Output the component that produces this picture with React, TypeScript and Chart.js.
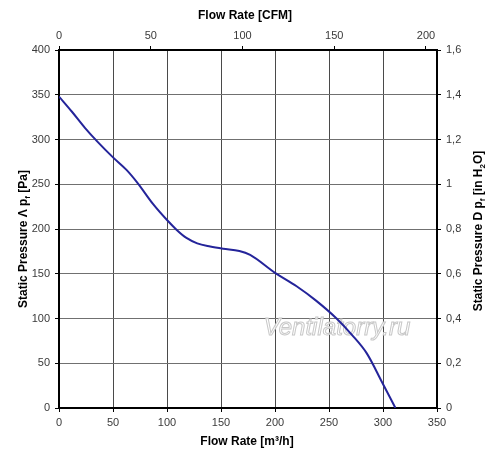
import React, { useEffect, useRef } from "react";
import { Chart, registerables } from "chart.js";

Chart.register(...registerables);

// Flow rate [m³/h] and static pressure [Pa]
const flowM3h = [0, 12, 24, 36, 50, 62.5, 73, 87, 100, 109, 118, 128, 140, 152, 167, 177, 200, 220, 238, 257, 271, 285, 299, 311.5];
const pressurePa = [348, 331, 313, 297, 280, 266, 251, 228, 210, 199, 190, 184, 180.5, 178, 175.5, 171, 151, 136, 120, 100, 82, 61, 29, 0];

const bottomTicks = [0, 50, 100, 150, 200, 250, 300, 350];
const topTicksCFM = [0, 50, 100, 150, 200];
const leftTicks = [0, 50, 100, 150, 200, 250, 300, 350, 400];
const rightTicks = [0, 0.2, 0.4, 0.6, 0.8, 1, 1.2, 1.4, 1.6];

const M3H_PER_CFM = 1.699;
const FONT = "'Liberation Sans', Arial, sans-serif";

type Seg = { t: string; sub?: boolean };

function drawRich(ctx: CanvasRenderingContext2D, segs: Seg[], x: number, y: number, rot: number, size: number) {
  ctx.save();
  ctx.translate(x, y);
  ctx.rotate(rot);
  ctx.textBaseline = "middle";
  ctx.textAlign = "left";
  ctx.fillStyle = "#000";
  const big = `bold ${size}px ${FONT}`;
  const small = `bold ${Math.round(size * 0.7)}px ${FONT}`;
  let w = 0;
  for (const s of segs) {
    ctx.font = s.sub ? small : big;
    w += ctx.measureText(s.t).width;
  }
  let cx = -w / 2;
  for (const s of segs) {
    ctx.font = s.sub ? small : big;
    ctx.fillText(s.t, cx, s.sub ? size * 0.3 : 0);
    cx += ctx.measureText(s.t).width;
  }
  ctx.restore();
}

const titlesPlugin = {
  id: "titles",
  beforeDatasetsDraw(chart: any) {
    const ctx = chart.ctx as CanvasRenderingContext2D;
    ctx.save();
    ctx.font = `italic 24px ${FONT}`;
    ctx.textAlign = "center";
    ctx.textBaseline = "middle";
    ctx.lineWidth = 1;
    ctx.fillStyle = "rgba(255,255,255,0.9)";
    ctx.strokeStyle = "#c8c8c8";
    ctx.fillText("Ventilatorry.ru", 337, 328);
    ctx.strokeText("Ventilatorry.ru", 337, 328);
    ctx.restore();
  },
  afterDraw(chart: any) {
    const ctx = chart.ctx as CanvasRenderingContext2D;
    drawRich(ctx, [{ t: "Flow Rate [CFM]" }], 245, 16, 0, 12);
    drawRich(ctx, [{ t: "Flow Rate [m³/h]" }], 247, 442, 0, 12);
    drawRich(ctx, [{ t: "Static Pressure Λ p" }, { t: "f", sub: true }, { t: " [Pa]" }], 24, 239, -Math.PI / 2, 12);
    drawRich(
      ctx,
      [{ t: "Static Pressure D p" }, { t: "f", sub: true }, { t: " [in H" }, { t: "2", sub: true }, { t: "O]" }],
      479,
      231,
      -Math.PI / 2,
      12
    );
  },
};

export default function App() {
  const ref = useRef<HTMLCanvasElement>(null);

  useEffect(() => {
    if (!ref.current) return;
    const tickFont = { family: FONT, size: 11 };
    const tickColor = "#3a3a3a";
    const chart = new Chart(ref.current, {
      type: "line",
      data: {
        datasets: [
          {
            data: flowM3h.map((x, i) => ({ x, y: pressurePa[i] })),
            borderColor: "#24249a",
            borderWidth: 2,
            pointRadius: 0,
            fill: false,
            cubicInterpolationMode: "monotone",
            xAxisID: "x",
            yAxisID: "y",
          },
        ],
      },
      options: {
        animation: false,
        responsive: false,
        layout: { padding: 0 },
        plugins: { legend: { display: false }, tooltip: { enabled: false } },
        scales: {
          x: {
            type: "linear",
            position: "bottom",
            min: 0,
            max: 350,
            afterBuildTicks: (s: any) => {
              s.ticks = bottomTicks.map((v) => ({ value: v }));
            },
            afterFit: (s: any) => {
              s.height = 52;
            },
            ticks: { font: tickFont, color: tickColor, padding: 4, maxRotation: 0 },
            grid: { color: "#4a4a4a", lineWidth: 1, tickLength: 4, tickColor: "#000" },
            border: { color: "#000", width: 2 },
          },
          xTop: {
            type: "linear",
            position: "top",
            min: 0,
            max: 350 / M3H_PER_CFM,
            afterBuildTicks: (s: any) => {
              s.ticks = topTicksCFM.map((v) => ({ value: v }));
            },
            afterFit: (s: any) => {
              s.height = 50;
            },
            ticks: { font: tickFont, color: tickColor, padding: 3, maxRotation: 0 },
            grid: { drawOnChartArea: false, tickLength: 4, tickColor: "#000" },
            border: { color: "#000", width: 2 },
          },
          y: {
            type: "linear",
            position: "left",
            min: 0,
            max: 400,
            afterBuildTicks: (s: any) => {
              s.ticks = leftTicks.map((v) => ({ value: v }));
            },
            afterFit: (s: any) => {
              s.width = 59;
            },
            ticks: { font: tickFont, color: tickColor, padding: 5 },
            grid: { color: "#707070", lineWidth: 1, tickLength: 4, tickColor: "#000" },
            border: { color: "#000", width: 2 },
          },
          y2: {
            type: "linear",
            position: "right",
            min: 0,
            max: 1.6,
            afterBuildTicks: (s: any) => {
              s.ticks = rightTicks.map((v) => ({ value: v }));
            },
            afterFit: (s: any) => {
              s.width = 63;
            },
            ticks: {
              font: tickFont,
              color: tickColor,
              padding: 5,
              callback: (v: any) => String(Number(Number(v).toFixed(1))).replace(".", ","),
            },
            grid: { drawOnChartArea: false, tickLength: 4, tickColor: "#000" },
            border: { color: "#000", width: 2 },
          },
        },
      },
      plugins: [titlesPlugin],
    } as any);
    return () => chart.destroy();
  }, []);

  return (
    <div style={{ position: "absolute", left: 0, top: 0, width: 500, height: 460, background: "#fff" }}>
      <canvas ref={ref} width={500} height={460} style={{ width: 500, height: 460, display: "block" }} />
    </div>
  );
}
